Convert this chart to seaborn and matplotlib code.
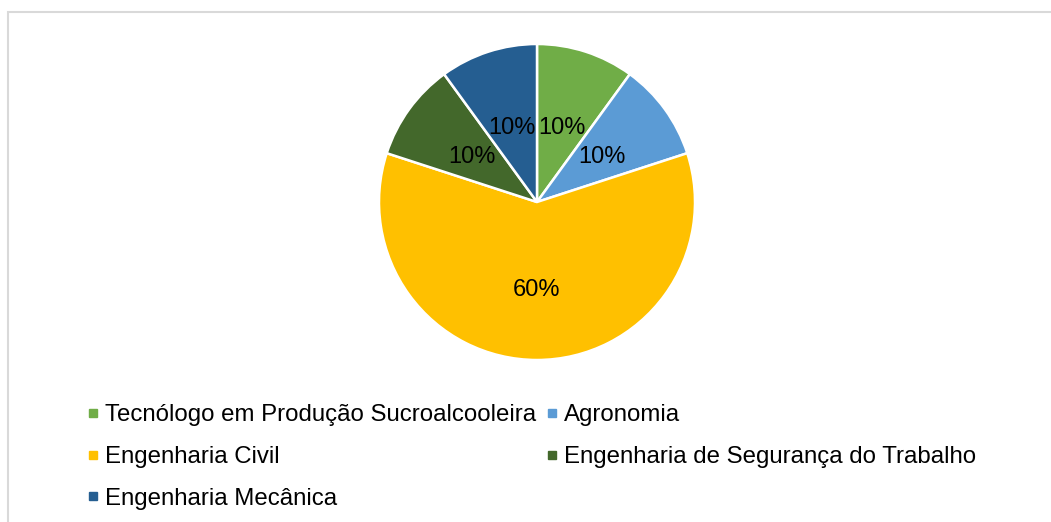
import matplotlib
matplotlib.use("Agg")
import matplotlib.pyplot as plt
from matplotlib.lines import Line2D
from matplotlib.patches import Rectangle
import seaborn as sns

categories = ["Tecnólogo em Produção Sucroalcooleira", "Agronomia", "Engenharia Civil",
              "Engenharia de Segurança do Trabalho", "Engenharia Mecânica"]
values = [10, 10, 60, 10, 10]
colors = ["#70AD47", "#5B9BD5", "#FFC000", "#43682B", "#255E91"]

sns.set_theme(style="white")
plt.rcParams['font.family'] = ['Liberation Sans', 'DejaVu Sans']
plt.rcParams['text.color'] = '#000000'

W, H = 1051, 522
fig = plt.figure(figsize=(W / 100, H / 100), dpi=100)
fig.patch.set_facecolor("white")

# chart border
fig.patches.append(Rectangle((8 / W, -0.1), 1.2, (H - 12) / H + 0.1, transform=fig.transFigure,
                             fill=False, edgecolor="#D9D9D9", linewidth=1.5))

cx, cy, r = 537, 202, 158
ax = fig.add_axes([(cx - r) / W, (H - cy - r) / H, 2 * r / W, 2 * r / H])
wedges, texts, autotexts = ax.pie(values, colors=colors, startangle=90, counterclock=False, radius=1,
                                  autopct=lambda p: f"{p:.0f}%", pctdistance=0.5,
                                  wedgeprops=dict(edgecolor="white", linewidth=1.8),
                                  textprops=dict(fontsize=17, color="#000000"))
for t in autotexts:
    x, y = t.get_position()
    t.set_position((x * 1.02, y * 1.02 - 0.015))
# big slice label sits a bit further out
x, y = autotexts[2].get_position()
autotexts[2].set_position((x * 1.06, y * 1.06))
ax.set_xlim(-1, 1)
ax.set_ylim(-1, 1)
ax.set_aspect("equal")
ax.axis("off")

# legend (row-major order as in reference -> column-major for matplotlib)
order = [0, 2, 4, 1, 3]
handles = [Line2D([], [], linestyle="none", marker="s", markersize=5.5,
                  markerfacecolor=colors[i], markeredgecolor=colors[i]) for i in order]
labels = [categories[i] for i in order]
leg = fig.legend(handles, labels, ncol=2, loc="upper left",
                 bbox_to_anchor=(87 / W, (H - 404) / H), frameon=False,
                 fontsize=17.3, handlelength=0.5, handletextpad=0.25,
                 columnspacing=0.42, labelspacing=0.83, borderpad=0, borderaxespad=0)
for t in leg.get_texts():
    t.set_color("#000000")

fig.savefig("out.png", dpi=100, facecolor="white")
